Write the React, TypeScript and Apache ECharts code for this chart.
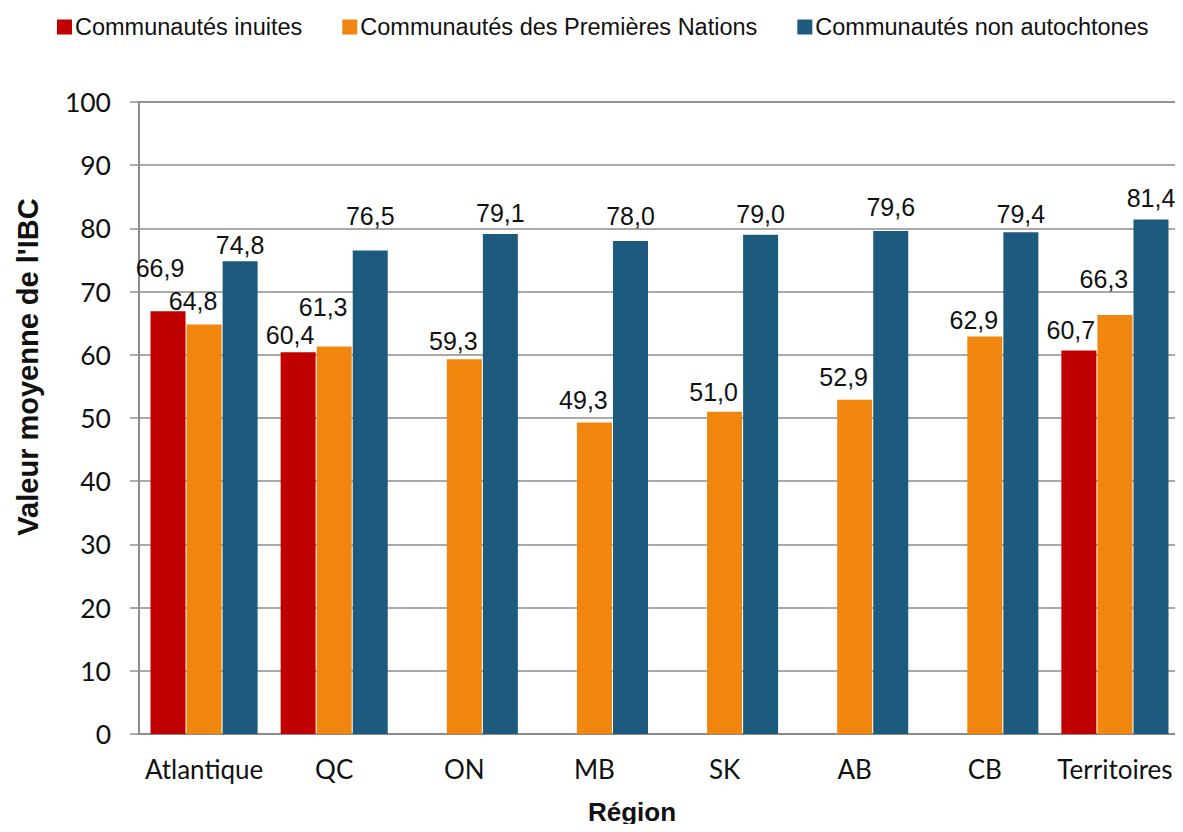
import React, { useEffect, useRef } from "react";
import * as echarts from "echarts";

const regions = ["Atlantique", "QC", "ON", "MB", "SK", "AB", "CB", "Territoires"];
const seriesNames = [
  "Communautés inuites",
  "Communautés des Premières Nations",
  "Communautés non autochtones",
];
const inuites = [66.9, 60.4, null, null, null, null, null, 60.7];
const premieresNations = [64.8, 61.3, 59.3, 49.3, 51.0, 52.9, 62.9, 66.3];
const nonAutochtones = [74.8, 76.5, 79.1, 78.0, 79.0, 79.6, 79.4, 81.4];
const yTicks = [0, 10, 20, 30, 40, 50, 60, 70, 80, 90, 100];

// label nudges (layout only): extra lift in px per bar, and horizontal shift per series
const liftInuites = [23, -3, 0, 0, 0, 0, 0, 0];
const liftPremieres = [3, 19, -2, 2, -1, 2, -4, 15];
const liftNonAuto = [-4, 14, 1, 5, 0, 3, -2, 1];
const shiftX = [-8, -11, 0];

const colors = ["#C00000", "#F0860E", "#1C5A7E"];

const fmt = (v: number) => v.toFixed(1).replace(".", ",");

export default function App() {
  const ref = useRef<HTMLDivElement>(null);
  useEffect(() => {
    if (!ref.current) return;
    const chart = echarts.init(ref.current, null, { renderer: "svg" });
    const all = [inuites, premieresNations, nonAutochtones];
    const lifts = [liftInuites, liftPremieres, liftNonAuto];
    const series = all.map((arr, si) => ({
      name: seriesNames[si],
      type: "bar",
      barWidth: 35,
      barGap: "3%",
      itemStyle: { color: colors[si] },
      label: {
        show: true,
        position: "top",
        distance: 8,
        fontFamily: "Liberation Sans, Arial, sans-serif",
        fontSize: 25,
        color: "#111",
        formatter: (p: any) => fmt(p.value),
      },
      data: arr.map((v, i) =>
        v === null
          ? null
          : { value: v, label: { offset: [shiftX[si], -lifts[si][i]] } }
      ),
    }));
    chart.setOption({
      animation: false,
      backgroundColor: "#fff",
      legend: {
        left: 52,
        top: 10,
        itemWidth: 15,
        itemHeight: 15,
        itemGap: 40,
        icon: "rect",
        textStyle: {
          fontFamily: "Liberation Sans, Arial, sans-serif",
          fontSize: 23.5,
          color: "#111",
          padding: [0, 0, 0, -2],
        },
        data: seriesNames,
      },
      grid: {
        left: 139,
        right: 3,
        top: 102,
        bottom: 98,
        show: true,
        borderColor: "#8c8c8c",
        borderWidth: 1.5,
      },
      xAxis: {
        type: "category",
        data: regions,
        axisLine: { lineStyle: { color: "#8c8c8c", width: 2 } },
        axisTick: {
          alignWithLabel: true,
          length: 7,
          lineStyle: { color: "#6f7f99", width: 1.5 },
        },
        axisLabel: {
          interval: 0,
          hideOverlap: false,
          fontFamily: "Lato, sans-serif",
          fontSize: 26,
          color: "#111",
          margin: 22,
        },
      },
      yAxis: {
        type: "value",
        min: yTicks[0],
        max: yTicks[yTicks.length - 1],
        interval: 10,
        axisLine: { show: true, lineStyle: { color: "#8c8c8c", width: 2 } },
        axisTick: { show: true, length: 9, lineStyle: { color: "#8c8c8c", width: 1.5 } },
        splitLine: { lineStyle: { color: "#8c8c8c", width: 1.5 } },
        axisLabel: {
          fontFamily: "Lato, sans-serif",
          fontSize: 26.5,
          color: "#111",
          margin: 28,
        },
      },
      graphic: [
        {
          type: "text",
          x: 28,
          y: 367,
          rotation: Math.PI / 2,
          style: {
            text: "Valeur moyenne de l'IBC",
            fontFamily: "Liberation Sans, Arial, sans-serif",
            fontWeight: "bold",
            fontSize: 29,
            fill: "#111",
            align: "center",
            verticalAlign: "middle",
          },
        },
        {
          type: "text",
          x: 632,
          y: 812,
          style: {
            text: "Région",
            fontFamily: "Liberation Sans, Arial, sans-serif",
            fontWeight: "bold",
            fontSize: 26,
            fill: "#111",
            align: "center",
            verticalAlign: "middle",
          },
        },
      ],
      series,
    });
    return () => chart.dispose();
  }, []);
  return <div ref={ref} style={{ width: 1183, height: 832, margin: -8 }} />;
}
